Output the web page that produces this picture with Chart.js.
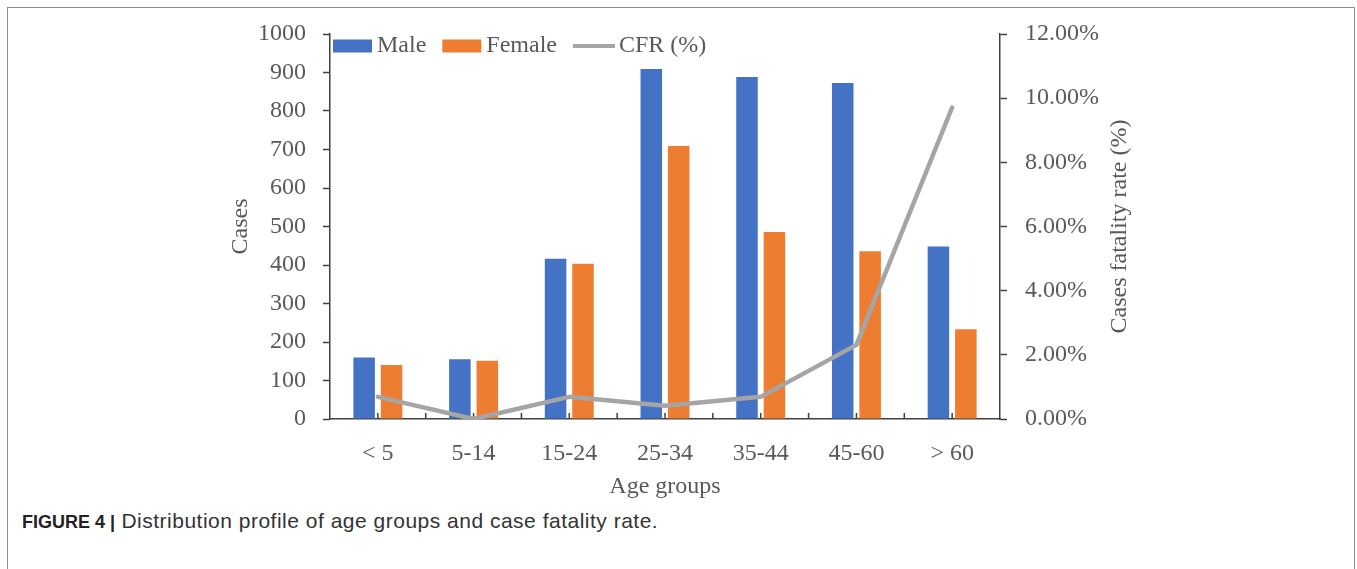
<!DOCTYPE html>
<html>
<head>
<meta charset="utf-8">
<title>Age groups and case fatality rate</title>
<script src="https://cdn.jsdelivr.net/npm/chart.js@4.4.1/dist/chart.umd.min.js"></script>
<style>
  html, body { margin: 0; padding: 0; background: #fff; }
  #frame {
    position: absolute; left: 7px; top: 7px; width: 1346px; height: 620px;
    border: 1.5px solid #8c8c8c; border-bottom: none;
  }
  #wrap { position: absolute; left: 0; top: 0; width: 1357px; height: 505px; }
  #caption {
    position: absolute; left: 22px; top: 509px;
    font-family: "Liberation Sans", Arial, sans-serif; font-size: 21px;
    color: #333; white-space: nowrap; letter-spacing: 0.5px;
  }
  #caption b { color: #222; font-size: 18px; letter-spacing: 0; }
</style>
</head>
<body>
<div id="frame"></div>
<div id="wrap"><canvas id="chart" width="1357" height="505"></canvas></div>
<div id="caption"><b>FIGURE 4 |</b> Distribution profile of age groups and case fatality rate.</div>

<script>
(function () {
  "use strict";

  // ---------- data ----------
  var ageGroups = ["< 5", "5-14", "15-24", "25-34", "35-44", "45-60", "> 60"];
  var maleCases = [160, 155, 416, 909, 888, 873, 448];
  var femaleCases = [140, 151, 403, 709, 486, 436, 233];
  var cfrPercent = [0.69, 0.0, 0.69, 0.41, 0.69, 2.31, 9.71];

  var casesMax = 1000, casesStep = 100;
  var cfrMax = 12, cfrStep = 2;

  // ---------- look ----------
  var SERIF = '"Liberation Serif", "Times New Roman", serif';
  var TEXT = "#595959";
  var AXIS = "#404040";
  var BLUE = "#4472c4";
  var ORANGE = "#ed7d31";
  var GREY = "#a5a5a5";

  // x ticks point inward, at every category centre and boundary.
  // Also draws the legend and the right-hand title (reads bottom-to-top).
  var decor = {
    id: "decor",
    beforeDatasetsDraw: function (chart) {
      var xs = chart.scales.x;
      var ctx = chart.ctx;
      var bottom = chart.chartArea.bottom;
      ctx.save();
      ctx.strokeStyle = AXIS;
      ctx.lineWidth = 1.5;
      ctx.beginPath();
      for (var i = 0; i < ageGroups.length; i++) {
        var c = xs.getPixelForValue(i);
        ctx.moveTo(c, bottom);
        ctx.lineTo(c, bottom - 6);
        if (i > 0) {
          var b = (c + xs.getPixelForValue(i - 1)) / 2;
          ctx.moveTo(b, bottom);
          ctx.lineTo(b, bottom - 6);
        }
      }
      ctx.stroke();
      ctx.restore();
    },
    afterDraw: function (chart) {
      var ctx = chart.ctx;
      var area = chart.chartArea;
      ctx.save();
      ctx.font = "24px " + SERIF;
      ctx.fillStyle = TEXT;
      ctx.textBaseline = "middle";

      // legend
      var x = area.left + 3, y = 46;
      chart.data.datasets.forEach(function (ds) {
        if (ds.type === "line") {
          ctx.strokeStyle = ds.borderColor;
          ctx.lineWidth = 4;
          ctx.beginPath();
          ctx.moveTo(x, y);
          ctx.lineTo(x + 42, y);
          ctx.stroke();
          x += 46;
        } else {
          ctx.fillStyle = ds.backgroundColor;
          ctx.fillRect(x, y - 6.5, 39, 13);
          x += 44;
        }
        ctx.fillStyle = TEXT;
        ctx.textAlign = "left";
        ctx.fillText(ds.label, x, y);
        x += ctx.measureText(ds.label).width + 16;
      });

      // right axis title
      ctx.translate(1120, (area.top + area.bottom) / 2);
      ctx.rotate(-Math.PI / 2);
      ctx.textAlign = "center";
      ctx.fillText("Cases fatality rate (%)", 0, 0);
      ctx.restore();
    }
  };

  new Chart(document.getElementById("chart").getContext("2d"), {
    data: {
      labels: ageGroups,
      datasets: [
        {
          type: "bar",
          label: "Male",
          data: maleCases,
          backgroundColor: BLUE,
          yAxisID: "y",
          barPercentage: 0.785,
          categoryPercentage: 0.573,
          order: 1
        },
        {
          type: "bar",
          label: "Female",
          data: femaleCases,
          backgroundColor: ORANGE,
          yAxisID: "y",
          barPercentage: 0.785,
          categoryPercentage: 0.573,
          order: 1
        },
        {
          type: "line",
          label: "CFR (%)",
          data: cfrPercent,
          borderColor: GREY,
          borderWidth: 4.5,
          borderCapStyle: "round",
          borderJoinStyle: "round",
          pointRadius: 0,
          tension: 0,
          fill: false,
          yAxisID: "y1",
          order: 0
        }
      ]
    },
    options: {
      responsive: false,
      animation: false,
      layout: { padding: { left: 0, right: 0, top: 34, bottom: 0 } },
      plugins: { legend: { display: false }, tooltip: { enabled: false } },
      scales: {
        x: {
          type: "category",
          offset: true,
          grid: { display: false },
          border: { display: true, color: AXIS, width: 1.5 },
          ticks: {
            color: TEXT, font: { family: SERIF, size: 24 },
            padding: 12, maxRotation: 0, autoSkip: false
          },
          title: {
            display: true, text: "Age groups", color: TEXT,
            font: { family: SERIF, size: 24 }, padding: { top: 0, bottom: 4 }
          },
          afterFit: function (s) { s.height = 86; }
        },
        y: {
          position: "left",
          min: 0, max: casesMax,
          ticks: {
            stepSize: casesStep, color: TEXT,
            font: { family: SERIF, size: 24 }, padding: 17,
            callback: function (v) { return String(v); }
          },
          grid: { drawOnChartArea: false, tickLength: 7, color: AXIS, tickWidth: 1.5 },
          border: { color: AXIS, width: 1.5 },
          title: {
            display: true, text: "Cases", color: TEXT,
            font: { family: SERIF, size: 24 }, padding: { top: 226, bottom: 0 }
          },
          afterFit: function (s) { s.width = 330; }
        },
        y1: {
          position: "right",
          min: 0, max: cfrMax,
          ticks: {
            stepSize: cfrStep, color: TEXT,
            font: { family: SERIF, size: 24 }, padding: 18,
            callback: function (v) { return v.toFixed(2) + "%"; }
          },
          grid: { drawOnChartArea: false, tickLength: 7, color: AXIS, tickWidth: 1.5 },
          border: { color: AXIS, width: 1.5 },
          afterFit: function (s) { s.width = 357; }
        }
      }
    },
    plugins: [decor]
  });
})();
</script>
</body>
</html>
